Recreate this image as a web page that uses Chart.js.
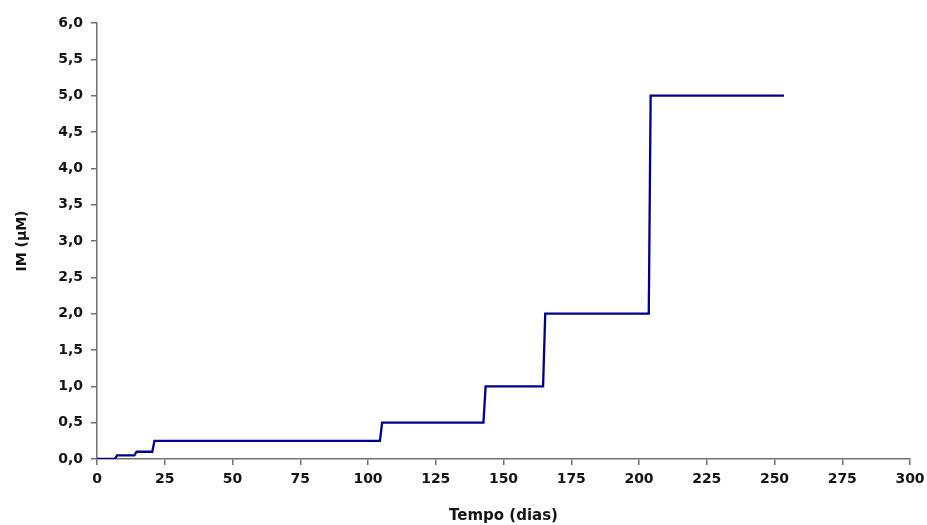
<!DOCTYPE html>
<html>
<head>
<meta charset="utf-8">
<script src="https://cdn.jsdelivr.net/npm/chart.js@4"></script>
<style>
  html,body{margin:0;padding:0;background:#fff;}
  #wrap{width:927px;height:525px;position:relative;}
</style>
</head>
<body>
<div id="wrap"><canvas id="c" width="927" height="525"></canvas></div>
<script>
// Time (days) and IM concentration (µM) — step profile
const days = [0, 6.6, 7.4, 13.8, 14.6, 20.4, 21.2, 104.4, 105.2, 142.6, 143.4, 164.6, 165.4, 203.6, 204.3, 253.5];
const imValues = [0, 0, 0.05, 0.05, 0.1, 0.1, 0.25, 0.25, 0.5, 0.5, 1, 1, 2, 2, 5, 5];
const xTitle = 'Tempo (dias)';
const yTitle = 'IM (µM)';

const points = days.map((d, i) => ({x: d, y: imValues[i]}));
const fontFam = '"DejaVu Sans", Verdana, sans-serif';
const textColor = '#141414';
const axisColor = '#707070';

new Chart(document.getElementById('c'), {
  type: 'line',
  data: {
    datasets: [{
      data: points,
      borderColor: '#00008b',
      borderWidth: 2.3,
      pointRadius: 0,
      tension: 0,
      fill: false
    }]
  },
  options: {
    responsive: false,
    animation: false,
    layout: {padding: {left: 10, right: 17, top: 23, bottom: 0}},
    plugins: {legend: {display: false}, tooltip: {enabled: false}},
    scales: {
      x: {
        type: 'linear',
        min: 0, max: 300,
        ticks: {stepSize: 25, color: textColor, font: {family: fontFam, size: 14, weight: 'bold'}, padding: 6},
        grid: {drawOnChartArea: false, drawTicks: true, tickLength: 6, color: axisColor, lineWidth: 1.5},
        border: {color: axisColor, width: 1.5},
        title: {display: true, text: xTitle, color: textColor, font: {family: fontFam, size: 15, weight: 'bold'}, padding: {top: 13, bottom: 0}},
        afterFit: s => { s.height = 66; s.paddingRight = 0; s.paddingLeft = 0; }
      },
      y: {
        min: 0, max: 6,
        ticks: {stepSize: 0.5, color: textColor, font: {family: fontFam, size: 14, weight: 'bold'}, padding: 8,
          callback: v => v.toFixed(1).replace('.', ',')},
        grid: {drawOnChartArea: false, drawTicks: true, tickLength: 6, color: axisColor, lineWidth: 1.5},
        border: {color: axisColor, width: 1.5},
        title: {display: true, text: yTitle, color: textColor, font: {family: fontFam, size: 14, weight: 'bold'}, padding: {bottom: 0}},
        afterFit: s => { s.width = 87; s.paddingTop = 0; s.paddingBottom = 0; }
      }
    }
  }
});
</script>
</body>
</html>
